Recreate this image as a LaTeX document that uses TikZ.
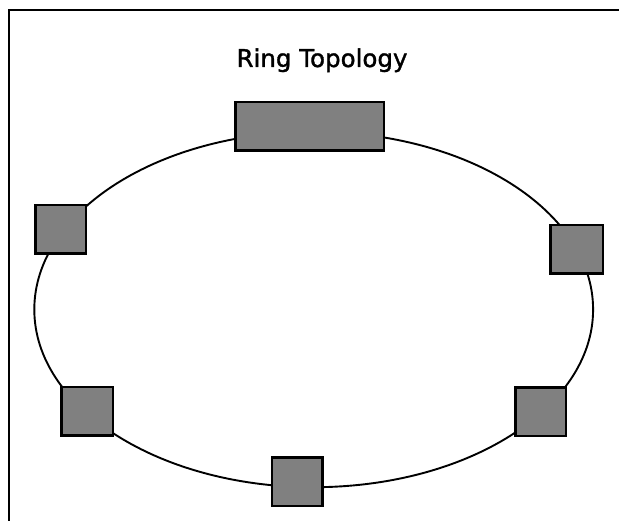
\documentclass[tikz,border=0pt]{standalone}
\usepackage{fontspec}
\setmainfont{DejaVu Sans}
\newfontfamily\titlefont[FakeBold=1.3]{DejaVu Sans}
\definecolor{boxgray}{HTML}{808080}
\begin{document}
\begin{tikzpicture}[x=1pt,y=-1pt,
  station/.style={draw=black,line width=2.5pt,fill=boxgray,inner sep=0pt,
    minimum width=#1-2.5pt,minimum height=48.5pt},
  station/.default=53pt,
  ring/.style={draw=black,line width=1.9pt},
  frameline/.style={draw=black,line width=2pt}]
\useasboundingbox (0,0) rectangle (619,521);
\fill[white] (0,0) rectangle (619,521);
\draw[frameline] (9,522) -- (9,9.7) -- (620,9.7);
\node[font=\titlefont\fontsize{24.5}{28}\selectfont,anchor=base,inner sep=0pt] (title) at (322,67) {Ring Topology};
\draw[ring] (313.7,309.5) ellipse [x radius=279.4pt, y radius=177.7pt];
\node[station=150.7pt] (top) at (309.7,126.2) {};
\node[station] (left) at (60.5,229.5) {};
\node[station=55pt] (right) at (576.5,249.5) {};
\node[station=54pt] (lowleft) at (87,411.5) {};
\node[station] (lowright) at (540.5,412) {};
\node[station] (bottom) at (297.3,481.7) {};
\end{tikzpicture}
\end{document}
